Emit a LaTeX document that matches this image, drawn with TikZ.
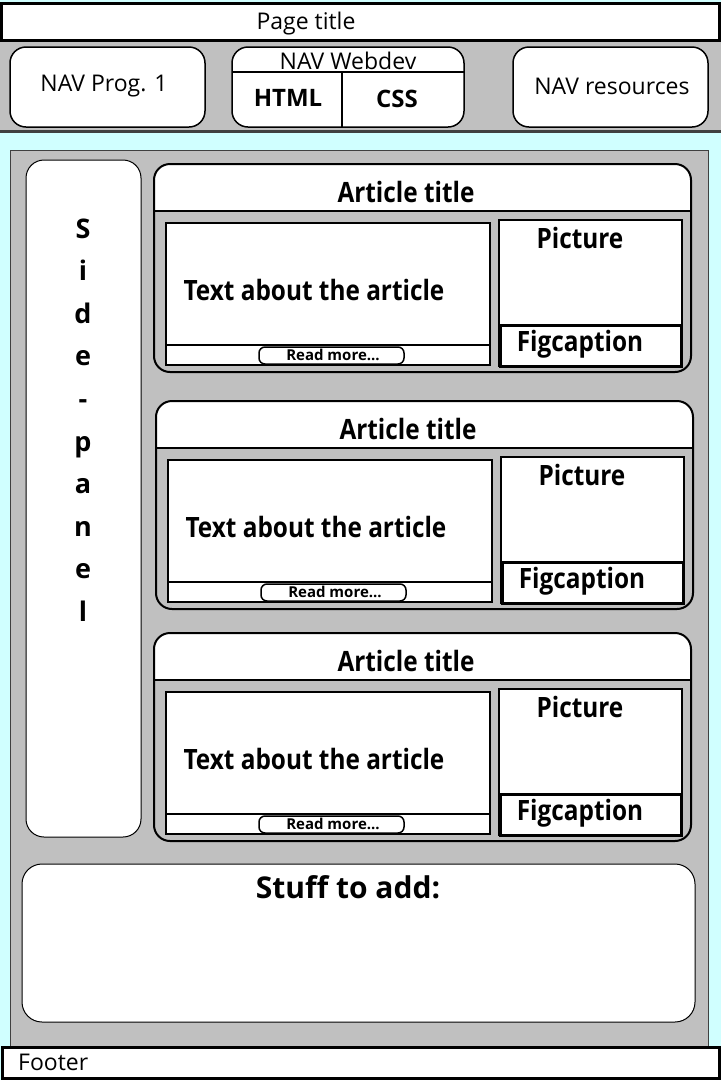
\documentclass[tikz,border=0pt]{standalone}
\usepackage{fontspec}
\setmainfont{Open Sans}
\newfontfamily\narrowfont[FakeStretch=0.87]{Open Sans}
\definecolor{pagecyan}{RGB}{208,255,255}
\definecolor{panelgrey}{RGB}{192,192,192}
\definecolor{edgegrey}{RGB}{64,64,64}
\tikzset{
  box/.style={draw=black,fill=white,line width=1.5pt},
  soft/.style={box,rounded corners=16pt},
  navtext/.style={font=\fontsize{23}{27}\selectfont},
  navbold/.style={font=\fontsize{24}{28}\selectfont\bfseries},
  arttext/.style={font=\narrowfont\fontsize{28}{32}\selectfont\bfseries},
  smalltext/.style={font=\fontsize{15}{17}\selectfont\bfseries}
}
\begin{document}
\begin{tikzpicture}[x=1pt,y=-1pt]
	\tikzstyle{every node}+=[inner sep=0pt]
	\useasboundingbox (0,0) rectangle (721,1080);
	\fill [pagecyan] (0,0) rectangle (721,1080);
	% header
	\draw [box,line width=3pt] (1.5,3) rectangle (719.5,40);
	\node (pagetitle) at (306,24) [navtext] {Page title};
	\fill [panelgrey] (0,41.5) rectangle (721,130);
	\draw [edgegrey,line width=3pt] (0,131) -- (721,131);
	\draw [soft] (10,47) rectangle (205,127);
	\node (navprog) at (104,86) [navtext] {NAV Prog. 1};
	\draw [soft] (232,47) rectangle (464,127);
	\draw [line width=2pt] (232,72) -- (464,72);
	\draw [line width=2pt] (342,72) -- (342,127);
	\node (navweb) at (348,61) [navtext] {NAV Webdev};
	\node (html) at (288,98) [navbold] {HTML};
	\node (css) at (397,99) [navbold] {CSS};
	\draw [soft] (513,47) rectangle (708,127);
	\node (navres) at (612,86) [navtext] {NAV resources};
	% main area
	\draw [edgegrey,fill=panelgrey] (10,150) rectangle (708,1046);
	\draw [box,line width=1pt,rounded corners=18pt] (26,160) rectangle (141,837);
	\node (side) at (83,420) [align=center,font=\fontsize{27}{42.6}\selectfont\bfseries] {S\\i\\d\\e\\-\\p\\a\\n\\e\\l};
	% articles
	\foreach \i/\dx/\dy in {1/0/0,2/2/237,3/0/469}{
	\begin{scope}[shift={(\dx,\dy)}]
		\begin{scope}
			\clip [rounded corners=16pt] (154,164) rectangle (691,372);
			\fill [panelgrey] (154,164) rectangle (691,372);
			\fill [white] (154,164) rectangle (691,211);
		\end{scope}
		\draw [black,line width=2pt,rounded corners=16pt] (154,164) rectangle (691,372);
		\draw [line width=1.5pt] (154,211) -- (691,211);
		\node (title\i) at (406,192) [arttext] {Article title};
		\draw [box,line width=2pt] (166,223) rectangle (490,365);
		\draw [line width=2pt] (166,345) -- (490,345);
		\node (text\i) at (314,290) [arttext] {Text about the article};
		\draw [box,rounded corners=6pt] (259,347) rectangle (404,364);
		\node (more\i) at (333,355) [smalltext] {Read more...};
		\draw [box,line width=2.5pt] (499,220) rectangle (682,366);
		\draw [box,line width=3pt] (500,325) rectangle (681,366);
		\node (pic\i) at (580,238) [arttext] {Picture};
		\node (cap\i) at (580,344) [arttext] {Figcaption};
	\end{scope}
	}
	% bottom
	\draw [box,line width=1pt,rounded corners=20pt] (22,864) rectangle (695,1022);
	\node (stuff) at (348,887) [font=\fontsize{30}{34}\selectfont\bfseries] {Stuff to add:};
	\draw [box,line width=3pt] (2,1047) rectangle (719,1078);
	\node (footer) at (18,1062) [anchor=west,navtext] {Footer};
\end{tikzpicture}
\end{document}
